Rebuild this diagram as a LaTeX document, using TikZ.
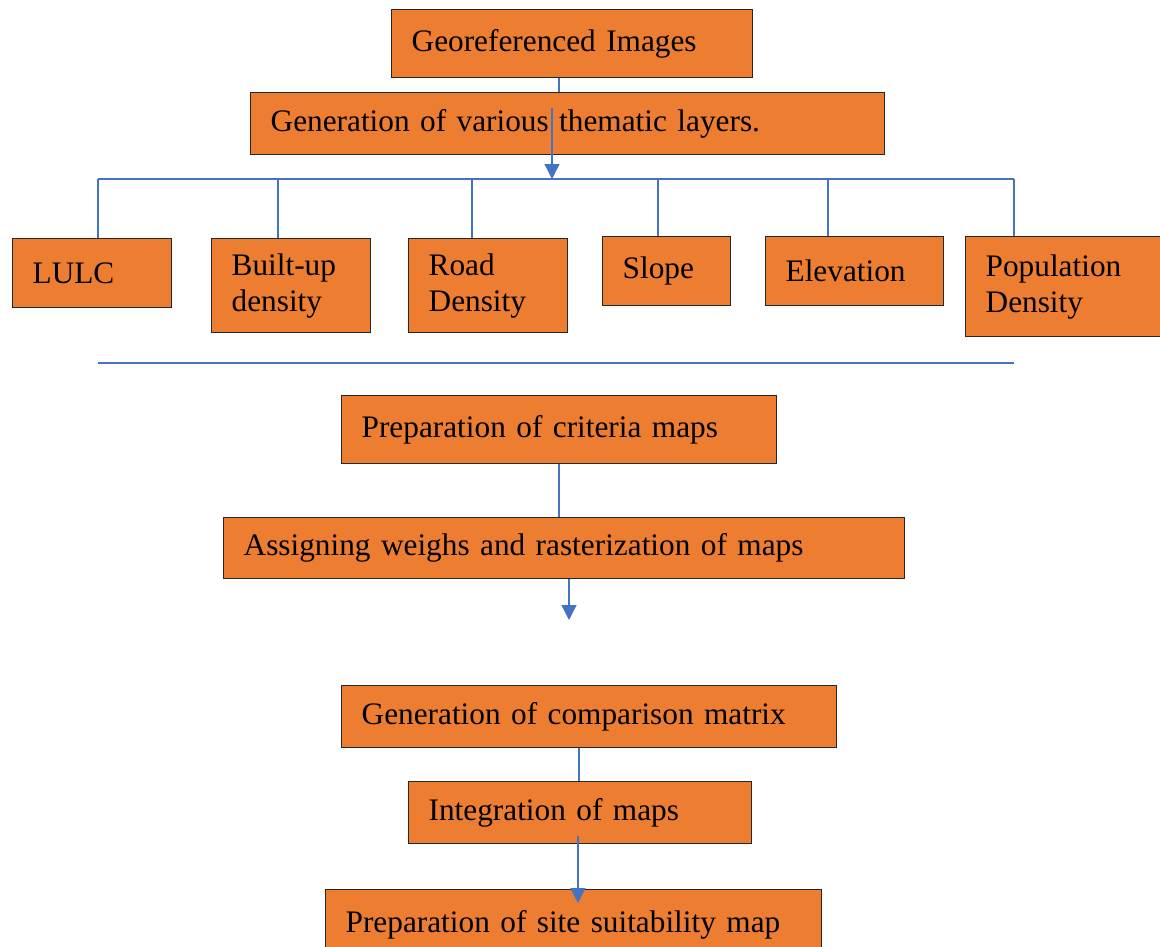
\documentclass[tikz,border=0pt]{standalone}
\usepackage{fontspec}
\setmainfont{Liberation Serif}
\usetikzlibrary{arrows.meta}
\definecolor{boxorange}{HTML}{ED7D31}
\definecolor{linkblue}{HTML}{4472C4}
\tikzset{
  box/.style={draw=black!85, line width=1.3pt, fill=boxorange, anchor=north west,
    align=left, inner xsep=20pt, inner ysep=0pt, font=\fontsize{31.3}{36}\selectfont},
  link/.style={draw=linkblue, line width=1.3pt},
  flow/.style={link, -{Triangle[width=15pt,length=15pt]}}
}
\begin{document}
\begin{tikzpicture}[x=1pt,y=-1pt]
\useasboundingbox (0,0) rectangle (1160,946);

% Top of the chart
\node[box, text width=321pt, minimum height=68pt] (geo) at (391,9) {Georeferenced Images};
\node[box, text width=594pt, minimum height=62pt] (gen) at (250,92) {Generation of various thematic layers.};

% Thematic layers
\node[box, text width=119pt, minimum height=69pt] (lulc) at (12,238) {LULC};
\node[box, text width=119pt, minimum height=94pt] (bupd) at (211,238) {Built-up\\density};
\node[box, text width=119pt, minimum height=94pt] (road) at (408,238) {Road\\Density};
\node[box, text width=88pt, minimum height=69pt] (slope) at (602,236) {Slope};
\node[box, text width=138pt, minimum height=69pt] (elev) at (765,236) {Elevation};
\node[box, text width=162pt, minimum height=100pt] (popd) at (965,236) {Population\\Density};

% Lower part of the chart
\node[box, text width=395pt, minimum height=68pt] (crit) at (341,395) {Preparation of criteria maps};
\node[box, text width=641pt, minimum height=61pt] (asgn) at (223,517) {Assigning weighs and rasterization of maps};
\node[box, text width=455pt, minimum height=62pt] (comp) at (341,685) {Generation of comparison matrix};
\node[box, text width=303pt, minimum height=62pt] (integ) at (408,781) {Integration of maps};
\node[box, text width=456pt, minimum height=70pt] (site) at (325,889) {Preparation of site suitability map};

% Bus to the layers
\coordinate (busL) at (98,179);
\coordinate (busR) at (1014,179);
\draw[link] (busL) -- (busR);
\foreach \n/\x in {lulc/98,bupd/278,road/472,slope/658,elev/828,popd/1014}
  \draw[link] (\x,0 |- busL) -- (\x,0 |- \n.north);

% Connectors
\draw[link] (559,0 |- geo.south) -- (559,0 |- gen.north);
\coordinate (genarr) at (552,108);
\draw[flow] (genarr) -- (genarr |- busL);

% Separator line
\coordinate (sepL) at (98,363);
\coordinate (sepR) at (1014,363);
\draw[link] (sepL) -- (sepR);

\draw[link] (559,0 |- crit.south) -- (559,0 |- asgn.north);
\coordinate (gap) at (569,620);
\draw[flow] (gap |- asgn.south) -- (gap);
\draw[link] (579,0 |- comp.south) -- (579,0 |- integ.north);
\coordinate (intarr) at (578,836);
\coordinate (sitetip) at (578,903);
\draw[flow] (intarr) -- (sitetip);
\end{tikzpicture}
\end{document}
